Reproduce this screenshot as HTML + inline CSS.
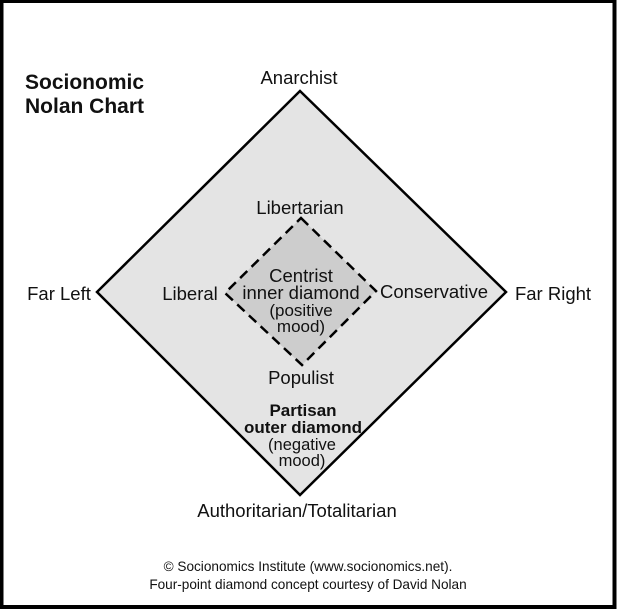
<!DOCTYPE html>
<html><head><style>body{margin:0;background:#fff} svg text{font-family:"Liberation Sans",Arial,sans-serif}</style></head><body>
<svg width="618" height="611" xmlns="http://www.w3.org/2000/svg">
<rect x="1.5" y="1" width="613" height="606" fill="#fff" stroke="#000" stroke-width="4"/>
<polygon points="300,91 506,292 300,495 97,292" fill="#e4e4e4" stroke="#000" stroke-width="2.5"/>
<polygon points="301,218 376,291 302,365 225,293" fill="#cdcdcd" stroke="#000" stroke-width="2.5" stroke-dasharray="10,6"/>
<g font-size="18.5" fill="#111" text-anchor="middle">
<text x="299" y="84">Anarchist</text>
<text x="300" y="214">Libertarian</text>
<text x="301" y="282">Centrist</text>
<text x="301" y="299">inner diamond</text>
<text x="301" y="316" font-size="17">(positive</text>
<text x="301" y="332" font-size="17">mood)</text>
<text x="190" y="300">Liberal</text>
<text x="434" y="298">Conservative</text>
<text x="59" y="300">Far Left</text>
<text x="553" y="300">Far Right</text>
<text x="301" y="384">Populist</text>
<text x="303" y="416" font-weight="bold" font-size="17">Partisan</text>
<text x="303" y="433" font-weight="bold" font-size="17">outer diamond</text>
<text x="302" y="450" font-size="16.5">(negative</text>
<text x="302" y="466" font-size="16.5">mood)</text>
<text x="297" y="517">Authoritarian/Totalitarian</text>
<text x="308" y="571" font-size="13.6">© Socionomics Institute (www.socionomics.net).</text>
<text x="308" y="589" font-size="13.6">Four-point diamond concept courtesy of David Nolan</text>
</g>
<g font-size="21" font-weight="bold" fill="#111">
<text x="25" y="89">Socionomic</text>
<text x="25" y="113">Nolan Chart</text>
</g>
</svg>
</body></html>
